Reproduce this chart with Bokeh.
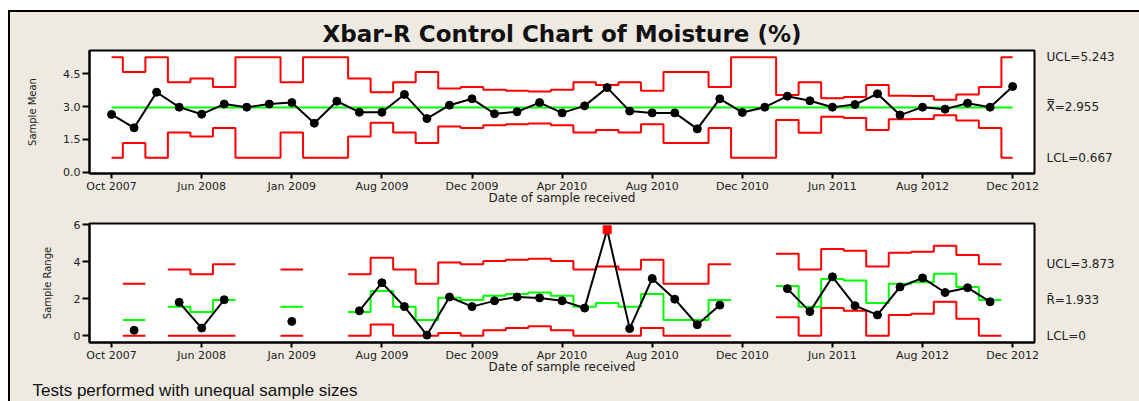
import math
from bokeh.plotting import figure
from bokeh.models import Range1d, FixedTicker, LinearAxis, Title, NumeralTickFormatter
from bokeh.layouts import column
from bokeh.embed import file_html
from bokeh.resources import INLINE

# ---------------- data ----------------
sample = list(range(1, 42))
tick_samples = [1, 5, 9, 13, 17, 21, 25, 29, 33, 37, 41]
tick_labels = ["Oct 2007", "Jun 2008", "Jan 2009", "Aug 2009", "Dec 2009", "Apr 2010",
               "Aug 2010", "Dec 2010", "Jun 2011", "Aug 2012", "Dec 2012"]

xbar_mean = [2.64, 2.03, 3.65, 2.97, 2.65, 3.11, 2.97, 3.11, 3.18, 2.24,
             3.24, 2.74, 2.74, 3.55, 2.45, 3.06, 3.35, 2.67, 2.76, 3.18,
             2.71, 3.03, 3.86, 2.79, 2.71, 2.71, 1.98, 3.35, 2.73, 2.97,
             3.47, 3.26, 2.97, 3.09, 3.58, 2.61, 2.97, 2.88, 3.15, 2.97, 3.91]
xbar_ucl = [5.243, 4.573, 5.243, 4.099, 4.276, 3.889, 5.243, 5.243, 4.099, 5.243,
            5.243, 4.276, 3.645, 4.099, 4.573, 3.820, 3.889, 3.764, 3.718, 3.679,
            3.764, 4.099, 3.978, 4.099, 3.718, 4.573, 4.573, 3.889, 5.243, 5.243,
            3.52, 4.10, 3.38, 3.43, 3.98, 3.49, 3.48, 3.31, 3.55, 3.89, 5.243]
xbar_lcl = [0.667, 1.337, 0.667, 1.811, 1.634, 2.021, 0.667, 0.667, 1.811, 0.667,
            0.667, 1.634, 2.265, 1.811, 1.337, 2.090, 2.021, 2.146, 2.192, 2.231,
            2.146, 1.811, 1.932, 1.811, 2.192, 1.337, 1.337, 2.021, 0.667, 0.667,
            2.39, 1.81, 2.53, 2.48, 1.93, 2.42, 2.43, 2.60, 2.36, 2.02, 0.667]
xbar_center = 2.955

r_range = [None, 0.30, None, 1.81, 0.42, 1.95, None, None, 0.78, None,
           None, 1.35, 2.87, 1.58, 0.04, 2.10, 1.58, 1.89, 2.10, 2.05,
           1.89, 1.50, 5.73, 0.39, 3.10, 1.98, 0.60, 1.66, None, None,
           2.55, 1.31, 3.19, 1.63, 1.13, 2.64, 3.13, 2.34, 2.60, 1.84, None]
r_cl = [None, 0.860, None, 1.570, 1.291, 1.933, None, None, 1.570, None,
        None, 1.291, 2.420, 1.570, 0.860, 2.062, 1.933, 2.171, 2.265, 2.348,
        2.171, 1.570, 1.774, 1.570, 2.265, 0.860, 0.860, 1.933, None, None,
        2.69, 1.570, 3.07, 2.99, 1.774, 2.81, 2.90, 3.35, 2.64, 1.933, None]
r_ucl = [None, 2.811, None, 3.583, 3.324, 3.873, None, None, 3.583, None,
         None, 3.324, 4.222, 3.583, 2.811, 3.969, 3.873, 4.047, 4.113, 4.171,
         4.047, 3.583, 3.751, 3.583, 4.113, 2.811, 2.811, 3.873, None, None,
         4.44, 3.583, 4.69, 4.60, 3.751, 4.49, 4.55, 4.87, 4.37, 3.873, None]
r_lcl = [None, 0, None, 0, 0, 0, None, None, 0, None,
         None, 0, 0.619, 0, 0, 0.156, 0, 0.296, 0.417, 0.524,
         0.296, 0, 0, 0, 0.417, 0, 0, 0, None, None,
         1.00, 0, 1.50, 1.36, 0, 1.13, 1.20, 1.84, 0.92, 0, None]
r_bar = 1.933

xbar_limit_vals = [5.243, 2.955, 0.667]
xbar_limit_text = ["UCL=5.243", "X\u033F=2.955", "LCL=0.667"]
r_limit_vals = [3.873, 1.933, 0.0]
r_limit_text = ["UCL=3.873", "R\u0304=1.933", "LCL=0"]

title_text = "Xbar-R Control Chart of Moisture (%)"
x_title = "Date of sample received"
footnote = "Tests performed with unequal sample sizes"

# ---------------- styling ----------------
BG = "#EEEAE1"
RED = "#FF0000"
GREEN = "#00FF00"
FONT = "DejaVu Sans"
W = 1129
NAN = float("nan")


def step_path(x, v, lo, hi):
    xs, ys = [], []
    prev = False
    for xi, vi in zip(x, v):
        if vi is None:
            if prev:
                xs.append(NAN)
                ys.append(NAN)
            prev = False
            continue
        xs += [max(xi - 0.5, lo), min(xi + 0.5, hi)]
        ys += [vi, vi]
        prev = True
    return xs, ys


def nanify(v):
    return [NAN if a is None else a for a in v]


def style_axis(ax, size="11px"):
    ax.axis_line_color = "black"
    ax.axis_line_width = 2
    ax.major_tick_line_color = "black"
    ax.major_tick_line_width = 2
    ax.major_tick_in = 0
    ax.minor_tick_line_color = None
    ax.major_label_text_font = FONT
    ax.major_label_text_font_size = size
    ax.major_label_text_color = "#222222"
    ax.axis_label_text_font = FONT
    ax.axis_label_text_font_size = "12px"
    ax.axis_label_text_font_style = "normal"
    ax.axis_label_text_color = "#222222"


def base_fig(height, yr, top, bottom, yticks, ylabel, ylab_standoff, lim_vals, lim_text):
    p = figure(width=W, height=height, x_range=Range1d(0.02, 41.97), y_range=yr,
               output_backend="svg", toolbar_location=None,
               min_border_left=79, min_border_right=W - 79 - 945,
               min_border_top=top, min_border_bottom=bottom,
               background_fill_color="white", border_fill_color=BG)
    p.xgrid.visible = False
    p.ygrid.visible = False
    p.outline_line_color = "black"
    p.outline_line_width = 2
    style_axis(p.xaxis[0])
    style_axis(p.yaxis[0])
    p.xaxis.ticker = FixedTicker(ticks=tick_samples)
    p.xaxis.major_label_overrides = {t: l for t, l in zip(tick_samples, tick_labels)}
    p.xaxis.major_tick_out = 5
    p.xaxis.major_label_standoff = 1
    p.xaxis.axis_label = x_title
    p.xaxis.axis_label_standoff = -5
    p.yaxis.ticker = FixedTicker(ticks=yticks)
    p.yaxis.major_tick_out = 7
    p.yaxis.major_label_standoff = 2
    p.yaxis.axis_label = ylabel
    p.yaxis.axis_label_standoff = ylab_standoff
    p.yaxis.axis_label_text_font_size = "10px"
    # control-limit labels on the right side
    rax = LinearAxis(ticker=FixedTicker(ticks=lim_vals),
                     major_label_overrides={v: t for v, t in zip(lim_vals, lim_text)})
    style_axis(rax, "12px")
    rax.axis_line_color = None
    rax.major_tick_line_color = None
    rax.major_tick_out = 0
    rax.major_label_standoff = 12
    p.add_layout(rax, "right")
    return p


lo, hi = sample[0], sample[-1]

# ---------------- Xbar chart ----------------
p1 = base_fig(203, Range1d(-0.05, 5.55), 38, 42, [0, 1.5, 3.0, 4.5], "Sample Mean", 22,
              xbar_limit_vals, xbar_limit_text)
p1.yaxis[0].formatter = NumeralTickFormatter(format="0.0")
p1.title.text = title_text
p1.title.align = "center"
p1.title.text_font = FONT
p1.title.text_font_size = "23px"
p1.title.text_font_style = "bold"
p1.title.text_color = "#111111"
p1.title.standoff = 8

xs, ys = step_path(sample, xbar_ucl, lo, hi)
p1.line(xs, ys, line_color=RED, line_width=2)
xs, ys = step_path(sample, xbar_lcl, lo, hi)
p1.line(xs, ys, line_color=RED, line_width=2)
p1.line([lo, hi], [xbar_center, xbar_center], line_color=GREEN, line_width=2)
p1.line(sample, xbar_mean, line_color="black", line_width=2)
p1.scatter(sample, xbar_mean, size=8, color="black")

# ---------------- R chart ----------------
p2 = base_fig(186, Range1d(-0.36, 6.07), 8, 57, [0, 2, 4, 6], "Sample Range", 18,
              r_limit_vals, r_limit_text)

for arr, col in ((r_ucl, RED), (r_lcl, RED), (r_cl, GREEN)):
    xs, ys = step_path(sample, arr, lo, hi)
    p2.line(xs, ys, line_color=col, line_width=2)

rv = nanify(r_range)
p2.line(sample, rv, line_color="black", line_width=2)
in_x = [s for s, r, u in zip(sample, r_range, r_ucl) if r is not None and r <= u]
in_y = [r for r, u in zip(r_range, r_ucl) if r is not None and r <= u]
out_x = [s for s, r, u in zip(sample, r_range, r_ucl) if r is not None and r > u]
out_y = [r for r, u in zip(r_range, r_ucl) if r is not None and r > u]
p2.scatter(in_x, in_y, size=8, color="black")
p2.scatter(out_x, out_y, size=8, marker="square", color=RED)

p2.add_layout(Title(text=footnote, align="left", offset=-57, standoff=4,
                    text_font="Liberation Sans", text_font_size="17px",
                    text_font_style="normal", text_color="#111111"), "below")

inner = column(p1, p2, spacing=0, styles={"background-color": BG})
layout = column(inner, spacing=0,
                styles={"margin-left": "8px", "margin-top": "10px",
                        "padding-left": "2px", "padding-top": "2px",
                        "background-color": "black"})

open("out.html", "w").write(file_html(layout, INLINE))
